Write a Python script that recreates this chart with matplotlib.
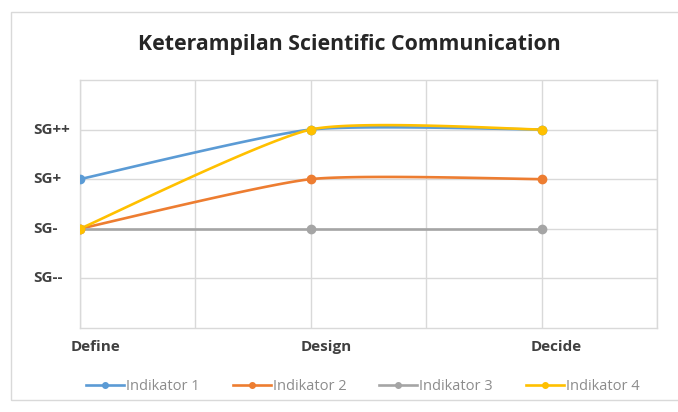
import matplotlib.pyplot as plt
from matplotlib.patches import Rectangle
import numpy as np

# Data
kategori = ["Define", "Design", "Decide"]
level = ["SG--", "SG-", "SG+", "SG++"]
indikator1 = [3, 4, 4]
indikator2 = [2, 3, 3]
indikator3 = [2, 2, 2]
indikator4 = [2, 4, 4]
nama = ["Indikator 1", "Indikator 2", "Indikator 3", "Indikator 4"]
warna = ["#5B9BD5", "#ED7D31", "#A5A5A5", "#FFC000"]

plt.rcParams['font.family'] = ['Open Sans', 'DejaVu Sans']


def smooth(xs, ys, n=40, k=0.6):
    # Catmull-Rom style bezier spline, like Excel's "smoothed line"
    xs = np.asarray(xs, float)
    ys = np.asarray(ys, float)
    px = np.concatenate([[xs[0]], xs, [xs[-1]]])
    py = np.concatenate([[ys[0]], ys, [ys[-1]]])
    outx, outy = [], []
    for i in range(1, len(px) - 2):
        t = np.linspace(0, 1, n)
        for p, out in ((px, outx), (py, outy)):
            p0, p1, p2, p3 = p[i - 1], p[i], p[i + 1], p[i + 2]
            c1 = p1 + k * (p2 - p0) / 6
            c2 = p2 - k * (p3 - p1) / 6
            out.extend((1 - t) ** 3 * p1 + 3 * (1 - t) ** 2 * t * c1
                       + 3 * (1 - t) * t ** 2 * c2 + t ** 3 * p2)
    return outx, outy


fig = plt.figure(figsize=(6.78, 4.12), dpi=100)
ax = fig.add_axes([0.118, 0.204, 0.851, 0.602])

# outer chart border
fig.patches.append(Rectangle((11 / 678, 12 / 412), 1.2, 388 / 412,
                             transform=fig.transFigure, fill=False,
                             edgecolor="#d9d9d9", linewidth=1))

xpos = [0, 2, 4]
semua = [indikator1, indikator2, indikator3, indikator4]
for vals, lab, c in zip(semua, nama, warna):
    sx, sy = smooth(xpos, vals)
    ax.plot(sx, sy, color=c, linewidth=1.9, solid_capstyle='round', zorder=3)
    ax.plot(xpos, vals, 'o', color=c, markersize=6, zorder=4)
    ax.plot([], [], '-o', color=c, linewidth=1.9, markersize=4, label=lab)

ax.set_xlim(0, 5)
ax.set_ylim(0, 5)
ax.set_xticks(np.arange(0, 6, 1))
ax.set_yticks([1, 2, 3, 4])
ax.grid(True, color="#d9d9d9", linewidth=1)
ax.tick_params(length=0)
for s in ax.spines.values():
    s.set_color("#d9d9d9")
    s.set_linewidth(1)

ax.set_xticklabels([])
ax.set_yticklabels([])
for x, lab in zip(xpos, kategori):
    ax.annotate(lab, xy=(x, 0), xycoords='data', xytext=(15, -12),
                textcoords='offset pixels', ha='center', va='top',
                fontsize=11, fontweight='bold', color="#404040")
for y, lab in enumerate(level, start=1):
    ax.annotate(lab, xy=(0, y), xycoords='data', xytext=(-47, 0),
                textcoords='offset pixels', ha='left', va='center',
                fontsize=11, fontweight='bold', color="#404040")

fig.text(0.515, 0.893, "Keterampilan Scientific Communication",
         ha='center', va='center', fontsize=15.3, fontweight='bold',
         color="#262626")

leg = fig.legend(loc='center', bbox_to_anchor=(0.535, 0.061), ncol=4,
                 frameon=False, fontsize=10.5, handlelength=2.6,
                 columnspacing=2.25, handletextpad=0.15)
for t in leg.get_texts():
    t.set_color("#8c8c8c")

fig.savefig("out.png", dpi=100)
